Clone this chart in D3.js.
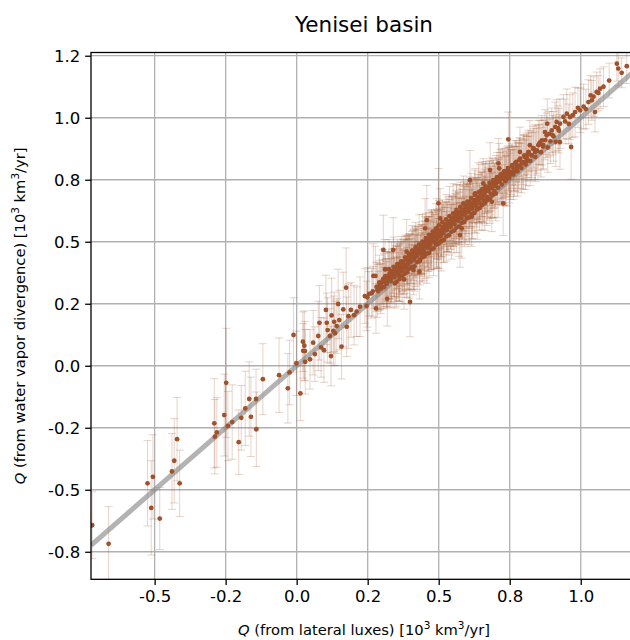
<!DOCTYPE html>
<html>
<head>
<meta charset="utf-8">
<script src="https://cdn.jsdelivr.net/npm/d3@7"></script>
<style>
body { margin: 0; background: #fff; }
text { font-family: "DejaVu Sans", sans-serif; fill: #000; }
</style>
</head>
<body>
<script>
// Q from lateral fluxes (x), from water vapor divergence (y), 1-sigma error on y
var qLateral = [
  -0.720, -0.662, -0.525, -0.506, -0.512, -0.482, -0.439, -0.431, -0.421, -0.412,
  -0.290, -0.288, -0.281, -0.255, -0.248, -0.242, -0.227, -0.204, -0.195, -0.181,
  -0.167, -0.161, -0.143, -0.142, -0.119, -0.062, -0.031, -0.025, -0.011, -0.001,
  0.013, 0.022, 0.027, 0.023, 0.030, 0.047,
  0.029, 0.064, 0.058, 0.076, 0.080, 0.086, 0.096, 0.103, 0.106, 0.109,
  0.117, 0.123, 0.121, 0.129, 0.132, 0.135, 0.141, 0.146, 0.150, 0.158,
  0.164, 0.174, 0.176, 0.182, 0.191, 0.202, 0.211, 0.223, 0.240, 0.246,
  0.249, 0.264, 0.270, 0.277, 0.279, 0.284, 0.293, 0.305, 0.311, 0.319,
  0.317, 0.329, 0.334, 0.340, 0.346, 0.358, 0.364, 0.378, 0.387, 0.399,
  0.393, 0.411, 0.417, 0.432, 0.434, 0.448, 0.458, 0.463, 0.475, 0.493, 0.493,
  0.255, 0.268, 0.286, 0.296, 0.302, 0.308, 0.314, 0.322, 0.327, 0.333,
  0.338, 0.343, 0.349, 0.352, 0.356, 0.361, 0.366, 0.371, 0.375, 0.381,
  0.384, 0.390, 0.396, 0.401, 0.405, 0.409, 0.414, 0.420, 0.424, 0.428,
  0.437, 0.441, 0.446, 0.452, 0.456, 0.461, 0.467, 0.471, 0.478, 0.482, 0.487, 0.497,
  0.452, 0.499, 0.505, 0.511, 0.528, 0.549, 0.563, 0.581, 0.575, 0.587,
  0.608, 0.616, 0.628, 0.645, 0.657, 0.669, 0.687, 0.681, 0.710, 0.713,
  0.727, 0.733, 0.610,
  0.503, 0.508, 0.514, 0.519, 0.523, 0.531, 0.536, 0.541, 0.545, 0.553,
  0.557, 0.561, 0.566, 0.571, 0.578, 0.584, 0.590, 0.594, 0.599, 0.604,
  0.612, 0.619, 0.623, 0.632, 0.637, 0.642, 0.650, 0.654, 0.662, 0.666,
  0.673, 0.678, 0.684, 0.691, 0.696, 0.702, 0.707, 0.716, 0.720, 0.724, 0.730, 0.737,
  0.745, 0.966, 1.050, 1.127, 1.132, 1.144, 1.162, 1.068, 1.056, 1.027,
  1.039, 0.998, 0.980, 0.962, 0.951, 0.939, 0.927, 0.915, 0.910, 0.898,
  0.927, 0.882, 0.874, 0.863, 0.880, 0.851, 0.839, 0.821, 0.810, 0.798,
  0.786, 0.775, 0.763, 0.751, 0.739,
  0.745, 0.752, 0.758, 0.766, 0.770, 0.780, 0.784, 0.792, 0.803, 0.808,
  0.815, 0.826, 0.832, 0.845, 0.856, 0.868, 0.889, 0.904, 0.920, 0.945,
  0.958, 0.972, 0.990, 1.010, 1.018, 1.035, 1.045, 1.062, 1.080, 1.100,
  // dense band
  0.281, 0.287, 0.291, 0.298, 0.304, 0.307, 0.312, 0.316, 0.321, 0.325,
  0.331, 0.336, 0.341, 0.344, 0.351, 0.354, 0.359, 0.363, 0.368, 0.373,
  0.377, 0.382, 0.386, 0.391, 0.395, 0.398, 0.403, 0.407, 0.412, 0.416,
  0.419, 0.423, 0.427, 0.431, 0.436, 0.439, 0.443, 0.447, 0.451, 0.455,
  0.459, 0.463, 0.466, 0.470, 0.474, 0.479, 0.483, 0.486, 0.490, 0.494,
  0.498,
  0.501, 0.506, 0.510, 0.513, 0.517, 0.521, 0.526, 0.529, 0.533, 0.538,
  0.542, 0.547, 0.551, 0.555, 0.559, 0.563, 0.568, 0.572, 0.576, 0.580,
  0.585, 0.589, 0.593, 0.597, 0.601, 0.606, 0.610, 0.614, 0.618, 0.622,
  0.627, 0.631, 0.635, 0.640, 0.644, 0.648, 0.653, 0.657, 0.661, 0.665,
  0.670, 0.674, 0.679, 0.683, 0.687, 0.692, 0.696, 0.700, 0.705, 0.709,
  0.713, 0.718, 0.722, 0.726, 0.731, 0.735, 0.740, 0.744, 0.748,
  0.754, 0.759, 0.763, 0.768, 0.773, 0.777, 0.782, 0.787, 0.791, 0.796,
  0.801, 0.806, 0.811, 0.817, 0.822, 0.828, 0.834, 0.840, 0.846, 0.853,
  0.860, 0.867, 0.875, 0.884, 0.893, 0.901, 0.912, 0.923,
  // band, lower edge
  0.352, 0.362, 0.371, 0.380, 0.389, 0.397, 0.406, 0.415, 0.424, 0.433,
  0.442, 0.450, 0.458, 0.466, 0.474, 0.482, 0.491, 0.500, 0.509, 0.518,
  0.527, 0.536, 0.545, 0.554, 0.563, 0.572, 0.581, 0.590, 0.599, 0.608,
  0.617, 0.626, 0.635, 0.644, 0.653, 0.662, 0.671, 0.680, 0.690, 0.701
];
var qDivergence = [
  -0.643, -0.718, -0.474, -0.448, -0.573, -0.616, -0.426, -0.383, -0.296, -0.474,
  -0.232, -0.286, -0.269, -0.199, -0.069, -0.243, -0.227, -0.308, -0.210, -0.172,
  -0.134, -0.206, -0.134, -0.256, -0.054, -0.038, -0.091, -0.027, 0.124, 0.010,
  -0.111, 0.097, 0.081, 0.060, 0.016, 0.026,
  0.059, 0.047, 0.093, 0.120, 0.173, 0.074, 0.063, 0.225, 0.173, 0.144,
  0.120, 0.203, 0.039, 0.141, 0.177, 0.131, 0.160, 0.249, 0.184, 0.077,
  0.227, 0.315, 0.157, 0.200, 0.225, 0.204, 0.218, 0.238, 0.281, 0.241,
  0.276, 0.292, 0.362, 0.362, 0.231, 0.305, 0.325, 0.467, 0.389, 0.270,
  0.332, 0.346, 0.379, 0.467, 0.332, 0.373, 0.393, 0.348, 0.460, 0.257,
  0.413, 0.386, 0.440, 0.379, 0.426, 0.453, 0.587, 0.480, 0.520, 0.554, 0.494,
  0.290, 0.300, 0.318, 0.310, 0.338, 0.352, 0.341, 0.360, 0.371, 0.355,
  0.382, 0.371, 0.395, 0.380, 0.402, 0.388, 0.412, 0.400, 0.420, 0.408,
  0.431, 0.425, 0.440, 0.432, 0.452, 0.444, 0.461, 0.455, 0.472, 0.462,
  0.478, 0.470, 0.492, 0.484, 0.505, 0.498, 0.512, 0.503, 0.530, 0.517, 0.538, 0.528,
  0.554, 0.655, 0.594, 0.540, 0.560, 0.581, 0.621, 0.554, 0.527, 0.655,
  0.661, 0.601, 0.695, 0.702, 0.735, 0.675, 0.661, 0.789, 0.816, 0.796,
  0.655, 0.749, 0.748,
  0.545, 0.530, 0.560, 0.548, 0.572, 0.558, 0.582, 0.570, 0.595, 0.580,
  0.604, 0.591, 0.610, 0.600, 0.622, 0.611, 0.633, 0.622, 0.645, 0.632,
  0.650, 0.644, 0.668, 0.660, 0.680, 0.672, 0.690, 0.681, 0.702, 0.715,
  0.708, 0.722, 0.715, 0.735, 0.725, 0.748, 0.740, 0.760, 0.752, 0.775, 0.768, 0.782,
  0.913, 0.882, 1.023, 1.218, 1.198, 1.181, 1.208, 1.117, 1.104, 1.063,
  1.070, 1.030, 1.023, 1.003, 1.016, 1.003, 0.976, 0.983, 0.963, 0.949,
  0.902, 0.976, 0.942, 0.909, 0.929, 0.889, 0.862, 0.889, 0.848, 0.821,
  0.862, 0.808, 0.795, 0.781, 0.754,
  0.790, 0.770, 0.805, 0.783, 0.818, 0.800, 0.830, 0.815, 0.842, 0.825,
  0.860, 0.848, 0.875, 0.868, 0.900, 0.890, 0.935, 0.925, 0.958, 0.985,
  0.975, 1.010, 1.040, 1.045, 1.035, 1.090, 1.085, 1.100, 1.125, 1.150,
  // dense band
  0.318, 0.301, 0.336, 0.322, 0.349, 0.317, 0.361, 0.330, 0.348, 0.389,
  0.341, 0.368, 0.399, 0.357, 0.372, 0.410, 0.366, 0.379, 0.421, 0.384,
  0.398, 0.437, 0.395, 0.409, 0.452, 0.418, 0.421, 0.465, 0.428, 0.447,
  0.478, 0.441, 0.456, 0.489, 0.452, 0.468, 0.500, 0.463, 0.481, 0.514,
  0.476, 0.492, 0.528, 0.488, 0.506, 0.541, 0.500, 0.521, 0.553, 0.512,
  0.536,
  0.566, 0.522, 0.548, 0.579, 0.536, 0.559, 0.590, 0.548, 0.571, 0.603,
  0.560, 0.584, 0.614, 0.572, 0.596, 0.628, 0.585, 0.609, 0.640, 0.596,
  0.620, 0.651, 0.608, 0.633, 0.662, 0.620, 0.644, 0.676, 0.633, 0.655,
  0.688, 0.645, 0.669, 0.699, 0.656, 0.681, 0.712, 0.668, 0.693, 0.723,
  0.681, 0.705, 0.737, 0.694, 0.718, 0.748, 0.705, 0.730, 0.760, 0.718,
  0.743, 0.772, 0.731, 0.756, 0.785, 0.744, 0.768, 0.797, 0.757,
  0.781, 0.809, 0.771, 0.793, 0.822, 0.784, 0.806, 0.835, 0.797, 0.820,
  0.848, 0.811, 0.834, 0.862, 0.826, 0.849, 0.877, 0.842, 0.866, 0.892,
  0.861, 0.884, 0.910, 0.880, 0.905, 0.930, 0.903, 0.948,
  // band, lower edge
  0.338, 0.349, 0.362, 0.371, 0.377, 0.392, 0.398, 0.401, 0.418, 0.421,
  0.437, 0.441, 0.452, 0.455, 0.470, 0.473, 0.488, 0.493, 0.502, 0.507,
  0.522, 0.526, 0.540, 0.545, 0.557, 0.561, 0.576, 0.580, 0.594, 0.598,
  0.611, 0.616, 0.630, 0.636, 0.648, 0.655, 0.667, 0.674, 0.688, 0.694
];
var qError = [
  0.135, 0.150, 0.172, 0.170, 0.190, 0.125, 0.153, 0.170, 0.168, 0.134,
  0.180, 0.150, 0.140, 0.165, 0.220, 0.140, 0.150, 0.130, 0.130, 0.150,
  0.150, 0.160, 0.120, 0.150, 0.143, 0.150, 0.140, 0.130, 0.150, 0.130,
  0.110, 0.120, 0.140, 0.110, 0.130, 0.120,
  0.12, 0.11, 0.13, 0.14, 0.15, 0.12, 0.13, 0.14, 0.12, 0.13,
  0.11, 0.15, 0.12, 0.14, 0.12, 0.13, 0.11, 0.14, 0.12, 0.13,
  0.15, 0.16, 0.12, 0.13, 0.11, 0.12, 0.10, 0.12, 0.11, 0.10,
  0.12, 0.10, 0.13, 0.12, 0.10, 0.11, 0.10, 0.14, 0.12, 0.11,
  0.10, 0.11, 0.12, 0.13, 0.10, 0.11, 0.10, 0.12, 0.13, 0.14,
  0.11, 0.10, 0.12, 0.11, 0.10, 0.11, 0.14, 0.10, 0.11, 0.12, 0.10,
  0.09, 0.10, 0.09, 0.10, 0.09, 0.10, 0.09, 0.10, 0.09, 0.10,
  0.09, 0.10, 0.09, 0.10, 0.09, 0.10, 0.09, 0.10, 0.09, 0.10,
  0.09, 0.10, 0.09, 0.10, 0.09, 0.10, 0.09, 0.10, 0.09, 0.10,
  0.09, 0.10, 0.09, 0.10, 0.09, 0.10, 0.09, 0.10, 0.09, 0.10, 0.09, 0.10,
  0.12, 0.14, 0.12, 0.10, 0.10, 0.10, 0.11, 0.12, 0.13, 0.11,
  0.10, 0.12, 0.10, 0.11, 0.10, 0.11, 0.12, 0.11, 0.10, 0.10,
  0.13, 0.10, 0.12,
  0.09, 0.10, 0.09, 0.10, 0.09, 0.10, 0.09, 0.10, 0.09, 0.10,
  0.09, 0.10, 0.09, 0.10, 0.09, 0.10, 0.09, 0.10, 0.09, 0.10,
  0.09, 0.10, 0.09, 0.10, 0.09, 0.10, 0.09, 0.10, 0.09, 0.10,
  0.09, 0.10, 0.09, 0.10, 0.09, 0.10, 0.09, 0.10, 0.09, 0.10, 0.09, 0.10,
  0.11, 0.13, 0.08, 0.07, 0.07, 0.06, 0.07, 0.08, 0.08, 0.09,
  0.08, 0.09, 0.10, 0.09, 0.10, 0.09, 0.10, 0.09, 0.10, 0.09,
  0.11, 0.10, 0.09, 0.10, 0.09, 0.10, 0.11, 0.10, 0.09, 0.11,
  0.10, 0.10, 0.09, 0.10, 0.11,
  0.09, 0.10, 0.09, 0.10, 0.09, 0.10, 0.09, 0.10, 0.09, 0.10,
  0.09, 0.10, 0.09, 0.10, 0.09, 0.10, 0.09, 0.10, 0.09, 0.09,
  0.08, 0.09, 0.08, 0.09, 0.08, 0.08, 0.08, 0.07, 0.08, 0.07,
  // dense band
  0.10, 0.08, 0.11, 0.09, 0.12, 0.08, 0.10, 0.09, 0.11, 0.12,
  0.09, 0.10, 0.12, 0.08, 0.11, 0.10, 0.09, 0.12, 0.10, 0.08,
  0.11, 0.09, 0.12, 0.10, 0.08, 0.11, 0.09, 0.10, 0.12, 0.08,
  0.10, 0.11, 0.09, 0.12, 0.08, 0.10, 0.11, 0.09, 0.12, 0.10,
  0.08, 0.11, 0.09, 0.10, 0.12, 0.08, 0.11, 0.09, 0.10, 0.12,
  0.09,
  0.10, 0.08, 0.11, 0.09, 0.12, 0.08, 0.10, 0.09, 0.11, 0.12,
  0.09, 0.10, 0.12, 0.08, 0.11, 0.10, 0.09, 0.12, 0.10, 0.08,
  0.11, 0.09, 0.12, 0.10, 0.08, 0.11, 0.09, 0.10, 0.12, 0.08,
  0.10, 0.11, 0.09, 0.12, 0.08, 0.10, 0.11, 0.09, 0.12, 0.10,
  0.08, 0.11, 0.09, 0.10, 0.12, 0.08, 0.11, 0.09, 0.10, 0.12,
  0.09, 0.10, 0.08, 0.11, 0.09, 0.10, 0.08, 0.09, 0.10,
  0.09, 0.08, 0.10, 0.09, 0.08, 0.10, 0.09, 0.08, 0.10, 0.09,
  0.08, 0.10, 0.09, 0.08, 0.10, 0.09, 0.08, 0.10, 0.09, 0.08,
  0.10, 0.09, 0.08, 0.10, 0.09, 0.08, 0.10, 0.09,
  // band, lower edge
  0.10, 0.09, 0.11, 0.08, 0.10, 0.12, 0.09, 0.10, 0.11, 0.08,
  0.10, 0.09, 0.12, 0.10, 0.08, 0.11, 0.09, 0.10, 0.12, 0.09,
  0.10, 0.08, 0.11, 0.09, 0.10, 0.12, 0.08, 0.10, 0.09, 0.11,
  0.10, 0.08, 0.12, 0.09, 0.10, 0.11, 0.08, 0.10, 0.09, 0.11
];

var xTicks = [-0.5, -0.25, 0, 0.25, 0.5, 0.75, 1.0],
    xTickLabels = ["-0.5", "-0.2", "0.0", "0.2", "0.5", "0.8", "1.0"],
    yTicks = [-0.75, -0.5, -0.25, 0, 0.25, 0.5, 0.75, 1.0, 1.25],
    yTickLabels = ["-0.8", "-0.5", "-0.2", "0.0", "0.2", "0.5", "0.8", "1.0", "1.2"],
    xDomain = [-0.724, 1.198],
    yDomain = [-0.861, 1.263];

var w = 630,
    h = 640,
    plotLeft = 91,
    plotRight = 637,
    plotTop = 52.5,
    plotBottom = 579.3,
    color = "sienna";

var points = qLateral.map(function (d, i) {
    return {x: d, y: qDivergence[i], e: qError[i]};
});

var x = d3.scaleLinear().domain(xDomain).range([plotLeft, plotRight]);
var y = d3.scaleLinear().domain(yDomain).range([plotBottom, plotTop]);

var svg = d3.select("body")
    .append("svg")
    .attr("width", w)
    .attr("height", h);

svg.append("clipPath")
    .attr("id", "plot-clip")
    .append("rect")
    .attr("x", plotLeft)
    .attr("y", plotTop)
    .attr("width", plotRight - plotLeft)
    .attr("height", plotBottom - plotTop);

// grid
var grid = svg.append("g");

grid.selectAll("line.gx")
    .data(xTicks)
    .enter()
    .append("line")
    .attr("class", "gx")
    .attr("x1", function (d) { return x(d); })
    .attr("x2", function (d) { return x(d); })
    .attr("y1", plotTop)
    .attr("y2", plotBottom)
    .attr("stroke", "#b0b0b0")
    .attr("stroke-width", 1.3);

grid.selectAll("line.gy")
    .data(yTicks)
    .enter()
    .append("line")
    .attr("class", "gy")
    .attr("x1", plotLeft)
    .attr("x2", plotRight)
    .attr("y1", function (d) { return y(d); })
    .attr("y2", function (d) { return y(d); })
    .attr("stroke", "#b0b0b0")
    .attr("stroke-width", 1.3);

var plot = svg.append("g").attr("clip-path", "url(#plot-clip)");

// error bars
var bars = plot.append("g")
    .attr("stroke", color)
    .attr("stroke-opacity", 0.25)
    .attr("stroke-width", 1)
    .selectAll("g")
    .data(points)
    .enter()
    .append("g");

bars.append("line")
    .attr("x1", function (d) { return x(d.x); })
    .attr("x2", function (d) { return x(d.x); })
    .attr("y1", function (d) { return y(d.y - d.e); })
    .attr("y2", function (d) { return y(d.y + d.e); });

bars.append("line")
    .attr("x1", function (d) { return x(d.x) - 4; })
    .attr("x2", function (d) { return x(d.x) + 4; })
    .attr("y1", function (d) { return y(d.y - d.e); })
    .attr("y2", function (d) { return y(d.y - d.e); });

bars.append("line")
    .attr("x1", function (d) { return x(d.x) - 4; })
    .attr("x2", function (d) { return x(d.x) + 4; })
    .attr("y1", function (d) { return y(d.y + d.e); })
    .attr("y2", function (d) { return y(d.y + d.e); });

// 1:1 line
plot.append("line")
    .attr("x1", x(xDomain[0]))
    .attr("y1", y(xDomain[0]))
    .attr("x2", x(xDomain[1]))
    .attr("y2", y(xDomain[1]))
    .attr("stroke", "gray")
    .attr("stroke-opacity", 0.6)
    .attr("stroke-width", 5);

// points
plot.append("g")
    .selectAll("circle")
    .data(points)
    .enter()
    .append("circle")
    .attr("cx", function (d) { return x(d.x); })
    .attr("cy", function (d) { return y(d.y); })
    .attr("r", 2.4)
    .attr("fill", color);

// axes
var xAxis = d3.axisBottom(x)
    .tickValues(xTicks)
    .tickFormat(function (d, i) { return xTickLabels[i]; })
    .tickSize(5.8)
    .tickPadding(5);

var yAxis = d3.axisLeft(y)
    .tickValues(yTicks)
    .tickFormat(function (d, i) { return yTickLabels[i]; })
    .tickSize(5.8)
    .tickPadding(5);

var gx = svg.append("g")
    .attr("transform", "translate(0," + plotBottom + ")")
    .call(xAxis);

var gy = svg.append("g")
    .attr("transform", "translate(" + plotLeft + ",0)")
    .call(yAxis);

[gx, gy].forEach(function (g) {
    g.select(".domain").remove();
    g.selectAll("line").attr("stroke", "#000").attr("stroke-width", 1.3);
    g.selectAll("text")
        .attr("font-family", "DejaVu Sans")
        .attr("font-size", "16.5px")
        .attr("fill", "#000");
});

// spines (right spine falls outside the page)
svg.append("rect")
    .attr("x", plotLeft)
    .attr("y", plotTop)
    .attr("width", plotRight - plotLeft)
    .attr("height", plotBottom - plotTop)
    .attr("fill", "none")
    .attr("stroke", "#000")
    .attr("stroke-width", 1.3);

// title
svg.append("text")
    .attr("x", (plotLeft + plotRight) / 2)
    .attr("y", 32)
    .attr("text-anchor", "middle")
    .attr("font-size", "21.5px")
    .text("Yenisei basin");

function axisLabel(sel, main) {
    sel.append("tspan").attr("font-style", "italic").text("Q");
    sel.append("tspan").text(" (" + main + ") [10");
    sel.append("tspan").attr("font-size", "10.5px").attr("dy", -6).text("3");
    sel.append("tspan").attr("dy", 6).text(" km");
    sel.append("tspan").attr("font-size", "10.5px").attr("dy", -6).text("3");
    sel.append("tspan").attr("dy", 6).text("/yr]");
}

svg.append("text")
    .attr("x", (plotLeft + plotRight) / 2)
    .attr("y", 635)
    .attr("text-anchor", "middle")
    .attr("font-size", "14.7px")
    .call(axisLabel, "from lateral luxes");

svg.append("text")
    .attr("transform", "translate(25," + (plotTop + plotBottom) / 2 + ") rotate(-90)")
    .attr("text-anchor", "middle")
    .attr("font-size", "14.7px")
    .call(axisLabel, "from water vapor divergence");
</script>
</body>
</html>
